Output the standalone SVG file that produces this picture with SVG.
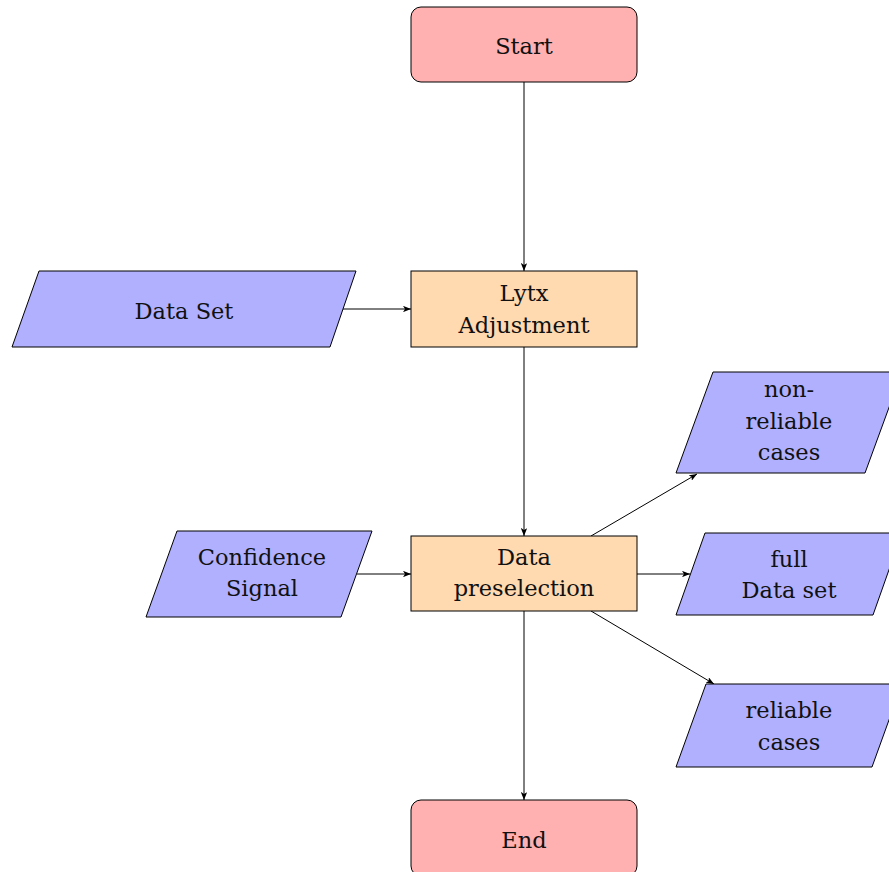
<svg xmlns="http://www.w3.org/2000/svg" width="889" height="872" viewBox="0 0 889 872">
  <style>
    .term { fill: #FFB0B0; stroke: #000; stroke-width: 1; }
    .proc { fill: #FFD9B0; stroke: #000; stroke-width: 1; }
    .io { fill: #B0B0FF; stroke: #000; stroke-width: 1; }
    .lbl { font-family: "DejaVu Serif", serif; font-size: 22.5px; fill: #111; text-anchor: middle; }
    .edge { stroke: #000; stroke-width: 1; fill: none; marker-end: url(#arrow); }
  </style>
  <defs>
    <marker id="arrow" viewBox="0 0 10 8" refX="10" refY="4" markerWidth="8" markerHeight="6.4" markerUnits="userSpaceOnUse" orient="auto">
      <path d="M0,0 L10,4 L0,8 L2.5,4 Z" fill="#000"/>
    </marker>
  </defs>
  <rect width="889" height="872" fill="#fff"/>

  <g id="connectors">
    <line class="edge" x1="524" y1="82" x2="524" y2="271"/>
    <line class="edge" x1="524" y1="347" x2="524" y2="536"/>
    <line class="edge" x1="343" y1="309" x2="411" y2="309"/>
    <line class="edge" x1="357" y1="574" x2="411" y2="574"/>
    <line class="edge" x1="637" y1="574" x2="690" y2="574"/>
    <line class="edge" x1="591" y1="536" x2="697" y2="474"/>
    <line class="edge" x1="591" y1="611" x2="714" y2="684"/>
    <line class="edge" x1="524" y1="611" x2="524" y2="800"/>
  </g>

  <g id="start">
    <rect class="term" x="411" y="7" width="226" height="75" rx="10" ry="10"/>
    <text class="lbl" x="524" y="54">Start</text>
  </g>

  <g id="lytx">
    <rect class="proc" x="411" y="271" width="226" height="76"/>
    <text class="lbl" x="524" y="301">Lytx</text>
    <text class="lbl" x="524" y="333">Adjustment</text>
  </g>

  <g id="dataset">
    <polygon class="io" points="39,271 356,271 330,347 12,347"/>
    <text class="lbl" x="184" y="319">Data Set</text>
  </g>

  <g id="preselection">
    <rect class="proc" x="411" y="536" width="226" height="75"/>
    <text class="lbl" x="524" y="565">Data</text>
    <text class="lbl" x="524" y="596">preselection</text>
  </g>

  <g id="confidence">
    <polygon class="io" points="177,531 372,531 341,617 146,617"/>
    <text class="lbl" x="262" y="565">Confidence</text>
    <text class="lbl" x="262" y="596">Signal</text>
  </g>

  <g id="nonreliable">
    <polygon class="io" points="713,372 902,372 865,473 676,473"/>
    <text class="lbl" x="789" y="397">non-</text>
    <text class="lbl" x="789" y="429">reliable</text>
    <text class="lbl" x="789" y="460">cases</text>
  </g>

  <g id="fullset">
    <polygon class="io" points="705,533 902,533 873,615 676,615"/>
    <text class="lbl" x="789" y="567">full</text>
    <text class="lbl" x="789" y="598">Data set</text>
  </g>

  <g id="reliable">
    <polygon class="io" points="706,684 902,684 872,767 676,767"/>
    <text class="lbl" x="789" y="718">reliable</text>
    <text class="lbl" x="789" y="750">cases</text>
  </g>

  <g id="end">
    <rect class="term" x="411" y="800" width="226" height="76" rx="10" ry="10"/>
    <text class="lbl" x="524" y="848">End</text>
  </g>
</svg>
